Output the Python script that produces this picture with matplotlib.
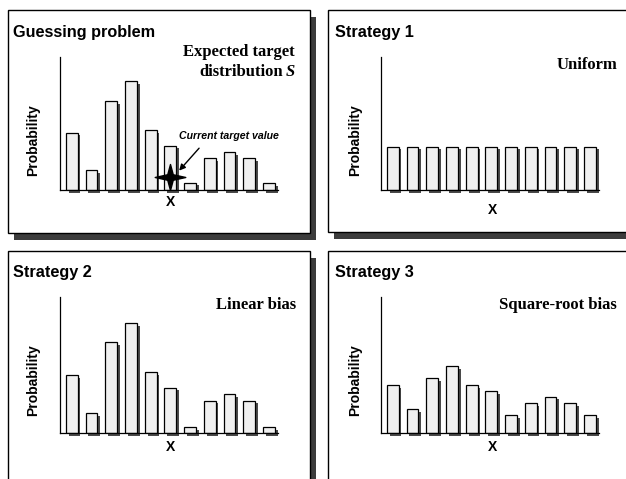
import numpy as np
import matplotlib.pyplot as plt
from matplotlib.patches import Rectangle
from matplotlib.path import Path

W, H = 626, 479

# bar heights (relative units, no scale shown)
x_bins = np.arange(11)
target_s = [172, 60, 268, 327, 180, 133, 22, 95, 114, 95, 20]
uniform = [130] * 11
linear_bias = [175, 60, 273, 332, 183, 137, 17, 97, 117, 97, 17]
sqrt_bias = [145, 72, 165, 202, 145, 127, 53, 90, 110, 90, 53]
current_target = (5, 40)

titles = ["Guessing problem", "Strategy 1", "Strategy 2", "Strategy 3"]
labels = ["Expected target", "Uniform", "Linear bias", "Square-root bias"]

fig = plt.figure(figsize=(W / 100, H / 100), dpi=100)
bg = fig.add_axes([0, 0, 1, 1])
bg.set_xlim(0, W)
bg.set_ylim(H, 0)
bg.axis('off')

sans = 'Liberation Sans'
serif = 'Liberation Serif'

# panel boxes with drop shadow: (left, top, right, bottom) in px
panels = [(8, 10, 310, 233), (328, 10, 640, 232), (8, 251, 310, 500), (328, 251, 640, 500)]
for l, t, r, b in panels:
    bg.add_patch(Rectangle((l + 6, t + 7), r - l, b - t, facecolor='#3c3c3c', edgecolor='none', zorder=1))
    bg.add_patch(Rectangle((l, t), r - l, b - t, facecolor='white', edgecolor='black', lw=1.0, zorder=2))

# axes placement in px: (yaxis x, top, right end, baseline)
ax_px = [(60, 57, 278, 190), (381, 57, 599, 190), (60, 297, 278, 433), (381, 297, 599, 433)]
series = [target_s, uniform, linear_bias, sqrt_bias]
ymax = [400, 400, 410, 410]

axes = []
for (x0, y0, x1, y1), vals, ym in zip(ax_px, series, ymax):
    ax = fig.add_axes([x0 / W, 1 - y1 / H, (x1 - x0) / W, (y1 - y0) / H])
    ax.set_xlim(-0.6, 10.46)
    ax.set_ylim(0, ym)
    # shadow of each bar
    ax.bar(x_bins + 0.14, np.array(vals) + 2, width=0.6, bottom=-10, color='#4a4a4a',
           edgecolor='none', zorder=1, clip_on=False)
    ax.bar(x_bins, vals, width=0.6, color='#f0f0f0', edgecolor='black', lw=0.9, zorder=2)
    for s in ['top', 'right']:
        ax.spines[s].set_visible(False)
    for s in ['left', 'bottom']:
        ax.spines[s].set_linewidth(0.9)
        ax.spines[s].set_zorder(3)
    ax.set_xticks([])
    ax.set_yticks([])
    ax.patch.set_alpha(0)
    axes.append(ax)

# burst marking the current target value
burst = Path([(-1.0, 0), (-0.18, 0.18), (0, 0.85), (0.18, 0.18), (1.0, 0), (0.18, -0.18),
              (0, -0.85), (-0.18, -0.18), (-1.0, 0)], closed=True)
axes[0].plot(*current_target, marker=burst, markersize=22, color='black', zorder=5, clip_on=False)
axes[0].annotate('', xy=(5.35, 52), xytext=(6.55, 132),
                 arrowprops=dict(arrowstyle='-|>', color='black', lw=1.0, mutation_scale=9), zorder=6)
axes[0].text(7.95, 162, 'Current target value', ha='center', va='center', fontsize=7.6,
             fontstyle='italic', fontweight='bold', family=sans)

# titles
title_pos = [(13, 32), (335, 32), (13, 272), (335, 272)]
for (tx, ty), t in zip(title_pos, titles):
    bg.text(tx, ty, t, ha='left', va='center', fontsize=11.7, fontweight='bold', family=sans, zorder=5)

# right-hand labels
bg.text(295, 52, labels[0], ha='right', va='center', fontsize=12, fontweight='bold', family=serif, zorder=5)
bg.text(283, 72, 'distribution', ha='right', va='center', fontsize=12, fontweight='bold', family=serif, zorder=5)
bg.text(286, 72, 'S', ha='left', va='center', fontsize=12, fontweight='bold', fontstyle='italic',
        family=serif, zorder=5)
bg.text(617, 65, labels[1], ha='right', va='center', fontsize=12, fontweight='bold', family=serif, zorder=5)
bg.text(296, 305, labels[2], ha='right', va='center', fontsize=12, fontweight='bold', family=serif, zorder=5)
bg.text(617, 305, labels[3], ha='right', va='center', fontsize=12, fontweight='bold', family=serif, zorder=5)

# axis labels
for px, py in [(33, 140), (355, 140), (33, 380), (355, 380)]:
    bg.text(px, py, 'Probability', rotation=90, ha='center', va='center', fontsize=10,
            fontweight='bold', family=sans, zorder=5)
for px, py in [(170, 202), (493, 210), (170, 447), (493, 447)]:
    bg.text(px, py, 'X', ha='center', va='center', fontsize=10, fontweight='bold', family=sans, zorder=5)

fig.savefig('out.png', dpi=100, facecolor='white')
